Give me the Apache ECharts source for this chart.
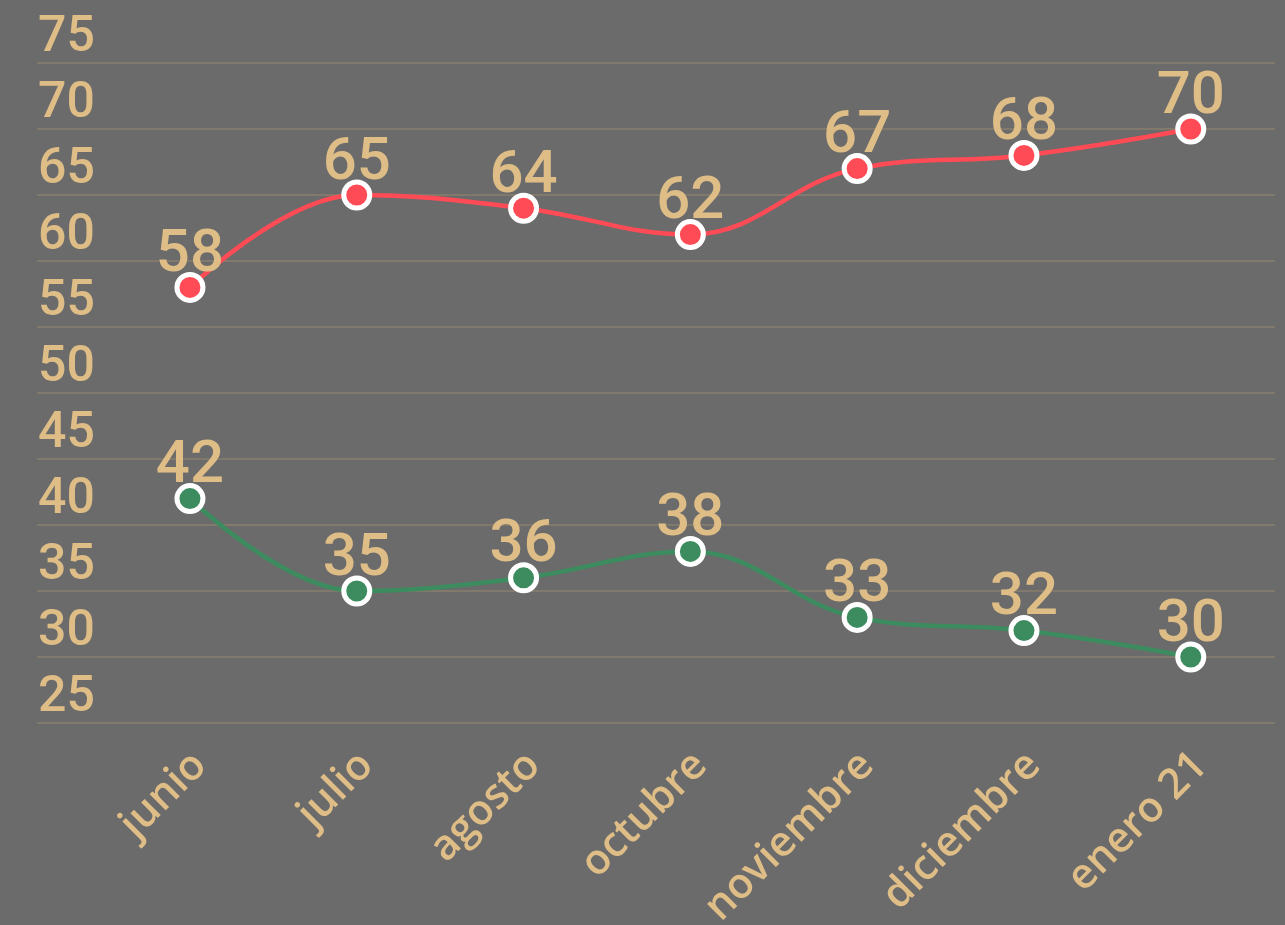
<!DOCTYPE html>
<html>
<head>
<meta charset="utf-8">
<title>Evolución mensual</title>
<script src="https://cdn.jsdelivr.net/npm/echarts@6/dist/echarts.min.js"></script>
<style>
  html, body { margin: 0; padding: 0; background: #6b6b6b; }
  #chart { width: 1285px; height: 925px; }
</style>
</head>
<body>
<div id="chart"></div>
<script>
// datos
const meses = ['junio', 'julio', 'agosto', 'octubre', 'noviembre', 'diciembre', 'enero 21'];
const serieRoja = [58, 65, 64, 62, 67, 68, 70];
const serieVerde = [42, 35, 36, 38, 33, 32, 30];
const yMin = 25;
const yMax = 75;
const yPaso = 5;

const tan = '#dfbd87';
const rojo = '#ff4b55';
const verde = '#3d8c5f';

const chart = echarts.init(document.getElementById('chart'));

function serie(nombre, valores, color) {
  return {
    name: nombre,
    type: 'line',
    smooth: 0.4,
    data: valores.map((v, i) => [i, v]),
    symbol: 'circle',
    symbolSize: 26,
    lineStyle: { color: color, width: 4.5 },
    itemStyle: { color: color, borderColor: '#fff', borderWidth: 5 },
    label: {
      show: true,
      position: 'top',
      distance: 0,
      offset: [0, 14],
      color: tan,
      fontFamily: 'Roboto',
      fontWeight: 500,
      fontSize: 60,
      formatter: p => p.value[1]
    },
    emphasis: { disabled: true },
    z: 3
  };
}

const option = {
  backgroundColor: '#6b6b6b',
  animation: false,
  grid: { left: 37, right: 10, top: 63, bottom: 202, outerBoundsMode: 'none', containLabel: false },
  xAxis: {
    type: 'value',
    min: -0.917,
    max: 6.505,
    axisLine: { show: false },
    axisTick: { show: false },
    splitLine: { show: false },
    axisLabel: {
      customValues: meses.map((m, i) => i + 0.06),
      formatter: v => meses[Math.round(v)],
      rotate: 45,
      margin: 36,
      color: tan,
      fontFamily: 'Open Sans',
      fontWeight: 600,
      fontSize: 42
    }
  },
  yAxis: {
    type: 'value',
    min: yMin,
    max: yMax,
    interval: yPaso,
    axisLine: { show: false },
    axisTick: { show: false },
    axisLabel: {
      inside: true,
      margin: 1,
      verticalAlign: 'bottom',
      color: tan,
      fontFamily: 'Roboto',
      fontWeight: 500,
      fontSize: 50
    },
    splitLine: { lineStyle: { color: '#81796b', width: 2 } }
  },
  series: [
    serie('rojo', serieRoja, rojo),
    serie('verde', serieVerde, verde)
  ]
};

chart.setOption(option);
</script>
</body>
</html>
